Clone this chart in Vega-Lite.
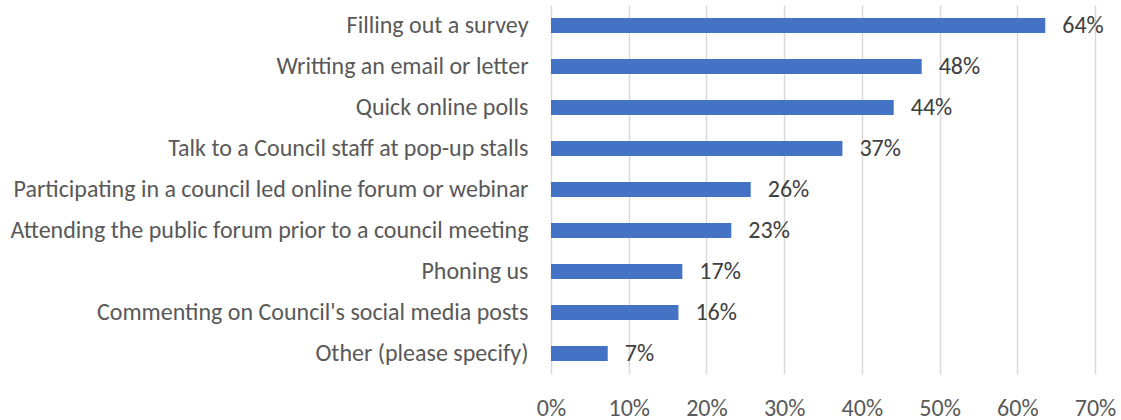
{
  "$schema": "https://vega.github.io/schema/vega-lite/v6.json",
  "width": 544,
  "height": 369,
  "autosize": {"type": "none"},
  "padding": {"left": 551, "top": 5, "right": 26, "bottom": 46},
  "background": "white",
  "config": {
    "font": "Carlito, Lato, sans-serif",
    "view": {"stroke": null}
  },
  "data": {
    "values": [
      {"option": "Filling out a survey", "pct": 0.636, "label": "64%"},
      {"option": "Writting an email or letter", "pct": 0.477, "label": "48%"},
      {"option": "Quick online polls", "pct": 0.441, "label": "44%"},
      {"option": "Talk to a Council staff at pop-up stalls", "pct": 0.375, "label": "37%"},
      {"option": "Participating in a council led online forum or webinar", "pct": 0.257, "label": "26%"},
      {"option": "Attending the public forum prior to a council meeting", "pct": 0.232, "label": "23%"},
      {"option": "Phoning us", "pct": 0.169, "label": "17%"},
      {"option": "Commenting on Council's social media posts", "pct": 0.164, "label": "16%"},
      {"option": "Other (please specify)", "pct": 0.073, "label": "7%"}
    ]
  },
  "encoding": {
    "y": {
      "field": "option",
      "type": "nominal",
      "sort": null,
      "scale": {"paddingInner": 0.64, "paddingOuter": 0.32},
      "axis": {
        "title": null,
        "ticks": false,
        "domain": false,
        "labelFontSize": 24,
        "labelColor": "#595959",
        "labelPadding": 23,
        "labelLimit": 0
      }
    },
    "x": {
      "field": "pct",
      "type": "quantitative",
      "scale": {"domain": [0, 0.7], "nice": false},
      "axis": {
        "title": null,
        "format": "%",
        "values": [0, 0.1, 0.2, 0.3, 0.4, 0.5, 0.6, 0.7],
        "labelOverlap": false,
        "labelFlush": false,
        "ticks": false,
        "domain": false,
        "grid": true,
        "gridColor": "#d9d9d9",
        "gridWidth": 1.5,
        "labelFontSize": 24,
        "labelColor": "#595959",
        "labelPadding": 22
      }
    }
  },
  "layer": [
    {"mark": {"type": "bar", "color": "#4472C4"}},
    {
      "mark": {"type": "text", "align": "left", "baseline": "middle", "dx": 17, "fontSize": 24, "color": "#404040"},
      "encoding": {"text": {"field": "label"}}
    }
  ]
}
